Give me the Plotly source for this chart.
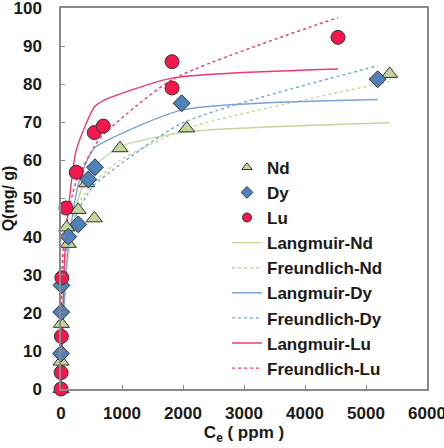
import plotly.graph_objects as go

nd_x = [0, 2, 6, 93, 120, 280, 421, 546, 967, 2060, 5388]
nd_y = [0, 7.2, 17.1, 42.4, 38.1, 47.0, 54.0, 44.8, 63.2, 68.4, 82.7]

dy_x = [1, 4, 8, 120, 284, 448, 557, 1978, 5191]
dy_y = [9.3, 20.2, 27.2, 40.0, 43.2, 55.0, 58.2, 75.0, 81.3]

lu_x = [0, 2, 6, 14, 82, 250, 546, 693, 1820, 1820, 4541]
lu_y = [0, 4.3, 13.8, 29.2, 47.5, 56.9, 67.3, 69.0, 79.0, 85.9, 92.3]

# ---- fitted curves ----
fit_nd_x = [0, 5, 20, 50, 110, 280, 421, 546, 967, 2060, 5388]
lang_nd = [0, 2.8, 10.2, 20.9, 34.1, 49.9, 55.5, 58.5, 63.6, 67.5, 69.9]
freu_nd = [0, 24.3, 30.8, 36.1, 41.3, 48.5, 52.0, 54.4, 60.0, 68.4, 80.7]

fit_dy_x = [0, 5, 20, 50, 120, 284, 448, 557, 1978, 5191]
lang_dy = [0, 3.0, 10.6, 22.0, 37.8, 53.8, 60.7, 63.4, 73.2, 76.0]
freu_dy = [0, 20.6, 27.3, 32.9, 39.3, 46.9, 51.5, 53.8, 69.7, 84.8]

fit_lu_x = [0, 5, 20, 50, 82, 250, 546, 693, 1820, 4541]
lang_lu = [0, 4.4, 15.4, 30.3, 40.5, 62.7, 74.0, 75.7, 81.6, 84.0]
freu_lu = [0, 24.8, 32.8, 39.4, 43.5, 54.5, 63.7, 66.8, 81.2, 97.5]

x_ticks = [0, 1000, 2000, 3000, 4000, 5000, 6000]
y_ticks = list(range(0, 101, 10))

C_ND = "#c3d69b"
C_DY = "#4f81bd"
C_LU = "#f5164d"
L_ND = "#c4d79b"
L_DY = "#7ba3d6"
L_LU = "#f03a6e"

fig = go.Figure()

line_specs = [
    (fit_nd_x, lang_nd, "Langmuir-Nd", L_ND, "solid"),
    (fit_nd_x, freu_nd, "Freundlich-Nd", L_ND, "dot"),
    (fit_dy_x, lang_dy, "Langmuir-Dy", L_DY, "solid"),
    (fit_dy_x, freu_dy, "Freundlich-Dy", L_DY, "dot"),
    (fit_lu_x, lang_lu, "Langmuir-Lu", L_LU, "solid"),
    (fit_lu_x, freu_lu, "Freundlich-Lu", L_LU, "dot"),
]
pt_specs = [
    (nd_x, nd_y, "Nd", C_ND, "triangle-up", 14),
    (dy_x, dy_y, "Dy", C_DY, "diamond", 13),
    (lu_x, lu_y, "Lu", C_LU, "circle", 14),
]

for x, y, name, color, dash in line_specs:
    fig.add_trace(go.Scatter(
        x=x, y=y, mode="lines", name=name, showlegend=False,
        line=dict(color=color, width=1.4, dash=dash, shape="spline", smoothing=0.6)))

for x, y, name, color, symbol, size in pt_specs:
    fig.add_trace(go.Scatter(
        x=x, y=y, mode="markers", name=name, showlegend=False, cliponaxis=False,
        marker=dict(color=color, symbol=symbol, size=size,
                    line=dict(color="#333333", width=1))))

# legend entries
for x, y, name, color, symbol, size in pt_specs:
    fig.add_trace(go.Scatter(
        x=[None], y=[None], mode="markers", name=name,
        marker=dict(color=color, symbol=symbol, size=9,
                    line=dict(color="#333333", width=1))))
for x, y, name, color, dash in line_specs:
    fig.add_trace(go.Scatter(
        x=[None], y=[None], mode="lines", name=name,
        line=dict(color=color, width=1.4, dash=dash)))

FONT = "Liberation Sans, Arial, sans-serif"
TXT = "#1a1a1a"

fig.update_layout(
    width=444, height=448,
    margin=dict(l=61, r=17, t=8, b=59),
    paper_bgcolor="white", plot_bgcolor="white",
    font=dict(family=FONT, size=17, color=TXT),
    showlegend=True,
    legend=dict(
        x=0.4536, y=0.628, xanchor="left", yanchor="top",
        bgcolor="rgba(0,0,0,0)", borderwidth=0,
        font=dict(family=FONT, size=17, color=TXT, weight="bold"),
        itemsizing="trace", traceorder="normal", tracegroupgap=0,
        itemwidth=30,
    ),
    xaxis=dict(
        range=[0, 6000], tickvals=x_ticks, ticktext=[str(v) for v in x_ticks],
        showgrid=False, zeroline=False, automargin=False,
        ticklabeloverflow="allow",
        showline=True, linecolor="#8a8a8a", linewidth=1.5, mirror=True,
        ticks="inside", ticklen=4, tickcolor="#8a8a8a",
        ticklabelstandoff=8,
        tickfont=dict(family=FONT, size=17, weight="bold", color=TXT),
        title=dict(text="C<sub>e</sub> ( ppm )", standoff=4,
                   font=dict(family=FONT, size=17, weight="bold", color=TXT)),
    ),
    yaxis=dict(
        range=[0, 100], tickvals=y_ticks, ticktext=[str(v) for v in y_ticks],
        showgrid=False, zeroline=False, automargin=False,
        ticklabeloverflow="allow",
        showline=True, linecolor="#8a8a8a", linewidth=1.5, mirror=True,
        ticks="inside", ticklen=4, tickcolor="#8a8a8a",
        ticklabelstandoff=14,
        tickfont=dict(family=FONT, size=17, weight="bold", color=TXT),
        title=dict(text="Q(mg/ g)", standoff=0,
                   font=dict(family=FONT, size=16, weight="bold", color=TXT)),
    ),
)

fig.write_html("out.html")
